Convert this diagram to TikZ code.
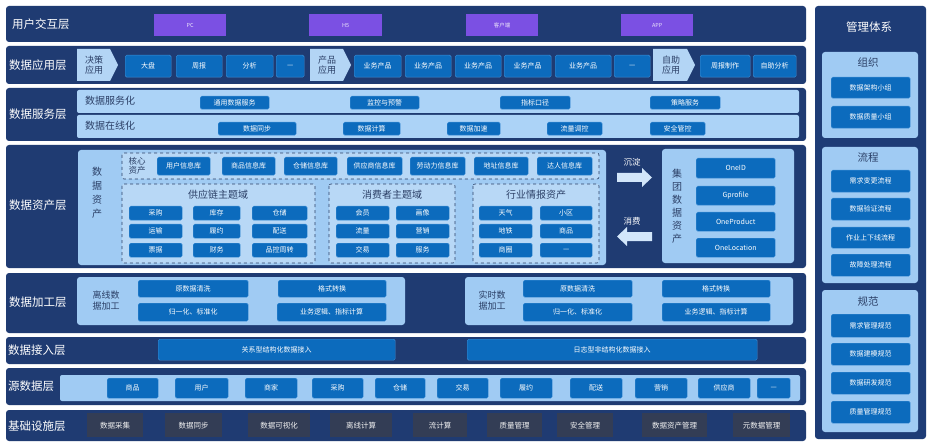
\documentclass[tikz,border=0pt]{standalone}
\usepackage{fontspec}
\setmainfont{Noto Sans CJK SC}
\usetikzlibrary{shapes.arrows}
\definecolor{navy}{HTML}{1F3B72}
\definecolor{mgnavy}{HTML}{1E3C76}
\definecolor{lightp}{HTML}{A0CBF3}
\definecolor{rowp}{HTML}{ACD3F7}
\definecolor{boxblue}{HTML}{0C6BBD}
\definecolor{boxedge}{HTML}{3E8FD6}
\definecolor{purp}{HTML}{7B50E3}
\definecolor{dashfill}{HTML}{B8D8F6}
\definecolor{infra}{HTML}{333D55}
\definecolor{txtdark}{HTML}{2B3F66}
\definecolor{arrowc}{HTML}{D2E6FA}
\tikzset{
  layer/.style={fill=navy,rounded corners=3pt,draw=none},
  panel/.style={fill=lightp,rounded corners=3pt,draw=none},
  bbox/.style={fill=boxblue,draw=boxedge,line width=0.4pt,rounded corners=1.5pt,inner sep=0pt,text=white,font=\fontsize{7}{8}\selectfont,align=center},
  pbox/.style={fill=purp,draw=none,inner sep=0pt,text=white!85!purp,font=\fontsize{5.5}{6}\selectfont},
  ibox/.style={fill=infra,draw=none,inner sep=0pt,text=white!90!gray,font=\fontsize{7.5}{8}\selectfont},
  lay/.style={text=white,font=\fontsize{11.5}{12}\selectfont,anchor=west,inner sep=0pt},
  dlab/.style={text=txtdark,font=\fontsize{10}{12}\selectfont,inner sep=0pt,align=center},
  dashbox/.style={fill=dashfill,draw=txtdark,dashed,line width=0.6pt,rounded corners=2pt},
  chev/.style={fill=lightp!80!white,draw=none},
  blockarrow/.style={fill=arrowc,draw=none}
}
\newcommand\bx[6]{\node[bbox,anchor=north west,minimum width=#4pt,minimum height=#5pt] (#1) at (#2,#3) {#6};}
\newcommand\px[6]{\node[pbox,anchor=north west,minimum width=#4pt,minimum height=#5pt] (#1) at (#2,#3) {#6};}
\newcommand\ix[6]{\node[ibox,anchor=north west,minimum width=#4pt,minimum height=#5pt] (#1) at (#2,#3) {#6};}
\begin{document}
\begin{tikzpicture}[x=1pt,y=-1pt]
\useasboundingbox[fill=white] (0,0) rectangle (933,446);

% ---------- layer backgrounds ----------
\fill[layer] (6,6) rectangle (806,42);
\fill[layer] (6,46) rectangle (806,84);
\fill[layer] (6,88) rectangle (806,141);
\fill[layer] (6,145) rectangle (806,268);
\fill[layer] (6,273) rectangle (806,333);
\fill[layer] (6,337) rectangle (806,364);
\fill[layer] (6,368) rectangle (806,405);
\fill[layer] (6,410) rectangle (806,441);

% ---------- layer labels ----------
\node[lay] (l1) at (12,24) {用户交互层};
\node[lay] (l2) at (9,65) {数据应用层};
\node[lay] (l3) at (9,114) {数据服务层};
\node[lay] (l4) at (9,205) {数据资产层};
\node[lay] (l5) at (9,302) {数据加工层};
\node[lay] (l6) at (8,350) {数据接入层};
\node[lay] (l7) at (8,386) {源数据层};
\node[lay] (l8) at (8,426) {基础设施层};

% ---------- 用户交互层 ----------
\px{u1}{154}{14}{72}{22}{PC}
\px{u2}{309}{14}{73}{22}{H5}
\px{u3}{466}{14}{72}{22}{客户端}
\px{u4}{621}{14}{72}{22}{APP}

% ---------- 数据应用层 ----------
\fill[chev] (77,49) -- (110,49) -- (118,65) -- (110,81) -- (77,81) -- cycle;
\node[dlab,font=\fontsize{9}{10}\selectfont] (c1) at (94,65) {决策\\应用};
\bx{a1}{125}{55}{46}{22}{大盘}
\bx{a2}{176}{55}{46}{22}{周报}
\bx{a3}{226}{55}{47}{22}{分析}
\bx{a4}{276}{55}{28}{22}{—}
\fill[chev] (310,49) -- (343,49) -- (351,65) -- (343,81) -- (310,81) -- cycle;
\node[dlab,font=\fontsize{9}{10}\selectfont] (c2) at (327,65) {产品\\应用};
\bx{a5}{354}{55}{47}{22}{业务产品}
\bx{a6}{405}{55}{46}{22}{业务产品}
\bx{a7}{455}{55}{46}{22}{业务产品}
\bx{a8}{504}{55}{47}{22}{业务产品}
\bx{a9}{555}{55}{56}{22}{业务产品}
\bx{a10}{614}{55}{36}{22}{—}
\fill[chev] (653,49) -- (687,49) -- (695,65) -- (687,81) -- (653,81) -- cycle;
\node[dlab,font=\fontsize{9}{10}\selectfont] (c3) at (671,65) {自助\\应用};
\bx{a11}{700}{55}{50}{22}{周报制作}
\bx{a12}{753}{55}{43}{22}{自助分析}

% ---------- 数据服务层 ----------
\fill[fill=rowp,rounded corners=2pt] (77,90) rectangle (799,113);
\fill[fill=rowp,rounded corners=2pt] (77,115) rectangle (799,138);
\node[dlab,anchor=west] (s0) at (85,101) {数据服务化};
\node[dlab,anchor=west] (s00) at (85,126) {数据在线化};
\bx{s1}{200}{96}{69}{13}{通用数据服务}
\bx{s2}{350}{96}{69}{13}{监控与预警}
\bx{s3}{500}{96}{70}{13}{指标口径}
\bx{s4}{650}{96}{70}{13}{策略服务}
\bx{s5}{218}{122}{78}{13}{数据同步}
\bx{s6}{343}{122}{57}{13}{数据计算}
\bx{s7}{447}{122}{53}{13}{数据加速}
\bx{s8}{547}{122}{55}{13}{流量调控}
\bx{s9}{650}{122}{55}{13}{安全管控}

% ---------- 数据资产层 ----------
\fill[panel] (78,150) rectangle (606,265);
\node[dlab,font=\fontsize{10}{14}\selectfont] (va) at (97,193) {数\\据\\资\\产};
% core assets
\draw[dashbox] (122,153) rectangle (599,179);
\node[dlab,font=\fontsize{8.5}{9}\selectfont] (core) at (137,166) {核心\\资产};
\bx{k1}{157}{157}{53}{18}{用户信息库}
\bx{k2}{222}{157}{53}{18}{商品信息库}
\bx{k3}{284}{157}{53}{18}{仓储信息库}
\bx{k4}{347}{157}{55}{18}{供应商信息库}
\bx{k5}{410}{157}{55}{18}{劳动力信息库}
\bx{k6}{474}{157}{54}{18}{地址信息库}
\bx{k7}{537}{157}{55}{18}{达人信息库}
% supply chain
\draw[dashbox] (122,184) rectangle (315,263);
\node[dlab] (t1) at (218,195) {供应链主题域};
\bx{g1}{129}{206}{53}{14}{采购}
\bx{g2}{193}{206}{47}{14}{库存}
\bx{g3}{252}{206}{55}{14}{仓储}
\bx{g4}{129}{224}{53}{14}{运输}
\bx{g5}{193}{224}{47}{14}{履约}
\bx{g6}{252}{224}{55}{14}{配送}
\bx{g7}{129}{243}{53}{14}{票据}
\bx{g8}{193}{243}{47}{14}{财务}
\bx{g9}{252}{243}{55}{14}{品控周转}
% consumer
\draw[dashbox] (329,184) rectangle (455,263);
\node[dlab] (t2) at (392,195) {消费者主题域};
\bx{h1}{336}{206}{53}{14}{会员}
\bx{h2}{396}{206}{53}{14}{画像}
\bx{h3}{336}{224}{53}{14}{流量}
\bx{h4}{396}{224}{53}{14}{营销}
\bx{h5}{336}{243}{53}{14}{交易}
\bx{h6}{396}{243}{53}{14}{服务}
% industry
\draw[dashbox] (473,184) rectangle (599,263);
\node[dlab] (t3) at (536,195) {行业情报资产};
\bx{i1}{479}{206}{53}{14}{天气}
\bx{i2}{540}{206}{52}{14}{小区}
\bx{i3}{479}{224}{53}{14}{地铁}
\bx{i4}{540}{224}{52}{14}{商品}
\bx{i5}{479}{243}{53}{14}{商圈}
\bx{i6}{540}{243}{52}{14}{—}
% arrows
\node[text=white,font=\fontsize{8.5}{9}\selectfont,inner sep=0pt] (chd) at (632,162) {沉淀};
\fill[blockarrow] (617,173) -- (642,173) -- (642,168) -- (652,177.5) -- (642,187) -- (642,182) -- (617,182) -- cycle;
\node[text=white,font=\fontsize{8.5}{9}\selectfont,inner sep=0pt] (xf) at (632,221) {消费};
\fill[blockarrow] (652,232) -- (627,232) -- (627,227) -- (617,236.5) -- (627,246) -- (627,241) -- (652,241) -- cycle;
% group assets
\fill[panel] (662,149) rectangle (794,263);
\node[dlab,font=\fontsize{10}{13}\selectfont] (vg) at (677,206) {集\\团\\数\\据\\资\\产};
\bx{o1}{696}{158}{79}{20}{OneID}
\bx{o2}{696}{186}{79}{19}{Gprofile}
\bx{o3}{696}{212}{79}{19}{OneProduct}
\bx{o4}{696}{238}{79}{19}{OneLocation}

% ---------- 数据加工层 ----------
\fill[panel] (77,277) rectangle (405,325);
\node[dlab,font=\fontsize{9}{11}\selectfont] (off) at (106,301) {离线数\\据加工};
\bx{p1}{138}{280}{110}{17}{原数据清洗}
\bx{p2}{278}{280}{108}{17}{格式转换}
\bx{p3}{138}{303}{110}{18}{归一化、标准化}
\bx{p4}{277}{303}{109}{18}{业务逻辑、指标计算}
\fill[panel] (465,277) rectangle (793,325);
\node[dlab,font=\fontsize{9}{11}\selectfont] (rt) at (492,301) {实时数\\据加工};
\bx{q1}{523}{280}{109}{17}{原数据清洗}
\bx{q2}{662}{280}{108}{17}{格式转换}
\bx{q3}{523}{303}{109}{18}{归一化、标准化}
\bx{q4}{662}{303}{108}{18}{业务逻辑、指标计算}

% ---------- 数据接入层 ----------
\bx{j1}{158}{339}{237}{21}{关系型结构化数据接入}
\bx{j2}{467}{339}{290}{21}{日志型非结构化数据接入}

% ---------- 源数据层 ----------
\fill[fill=lightp,rounded corners=2pt] (60,375) rectangle (800,401);
\bx{d1}{107}{378}{51}{20}{商品}
\bx{d2}{175}{378}{53}{20}{用户}
\bx{d3}{245}{378}{52}{20}{商家}
\bx{d4}{312}{378}{51}{20}{采购}
\bx{d5}{375}{378}{50}{20}{仓储}
\bx{d6}{437}{378}{51}{20}{交易}
\bx{d7}{500}{378}{52}{20}{履约}
\bx{d8}{570}{378}{52}{20}{配送}
\bx{d9}{635}{378}{52}{20}{营销}
\bx{d10}{698}{378}{52}{20}{供应商}
\bx{d11}{757}{378}{33}{20}{—}

% ---------- 基础设施层 ----------
\ix{f1}{87}{413}{56}{24}{数据采集}
\ix{f2}{165}{413}{57}{24}{数据同步}
\ix{f3}{248}{413}{62}{24}{数据可视化}
\ix{f4}{330}{413}{62}{24}{离线计算}
\ix{f5}{413}{413}{54}{24}{流计算}
\ix{f6}{487}{413}{55}{24}{质量管理}
\ix{f7}{557}{413}{56}{24}{安全管理}
\ix{f8}{642}{413}{65}{24}{数据资产管理}
\ix{f9}{733}{413}{57}{24}{元数据管理}

% ---------- 管理体系 ----------
\fill[fill=mgnavy,rounded corners=3pt] (815,6) rectangle (926,439);
\node[text=white,font=\fontsize{11.5}{12}\selectfont,inner sep=0pt] (mg) at (869,27) {管理体系};
\fill[panel] (822,52) rectangle (918,138);
\node[dlab,font=\fontsize{10.5}{12}\selectfont] (zz) at (868,63) {组织};
\bx{m1}{831}{77}{79}{21}{数据架构小组}
\bx{m2}{831}{106}{79}{22}{数据质量小组}
\fill[panel] (822,147) rectangle (918,283);
\node[dlab,font=\fontsize{10.5}{12}\selectfont] (lc) at (868,158) {流程};
\bx{m3}{831}{170}{79}{22}{需求变更流程}
\bx{m4}{831}{198}{79}{22}{数据验证流程}
\bx{m5}{831}{227}{79}{21}{作业上下线流程}
\bx{m6}{831}{254}{79}{22}{故障处理流程}
\fill[panel] (822,290) rectangle (918,432);
\node[dlab,font=\fontsize{10.5}{12}\selectfont] (gf) at (868,302) {规范};
\bx{m7}{831}{314}{79}{23}{需求管理规范}
\bx{m8}{831}{343}{79}{22}{数据建模规范}
\bx{m9}{831}{372}{79}{22}{数据研发规范}
\bx{m10}{831}{401}{79}{22}{质量管理规范}
\end{tikzpicture}
\end{document}
